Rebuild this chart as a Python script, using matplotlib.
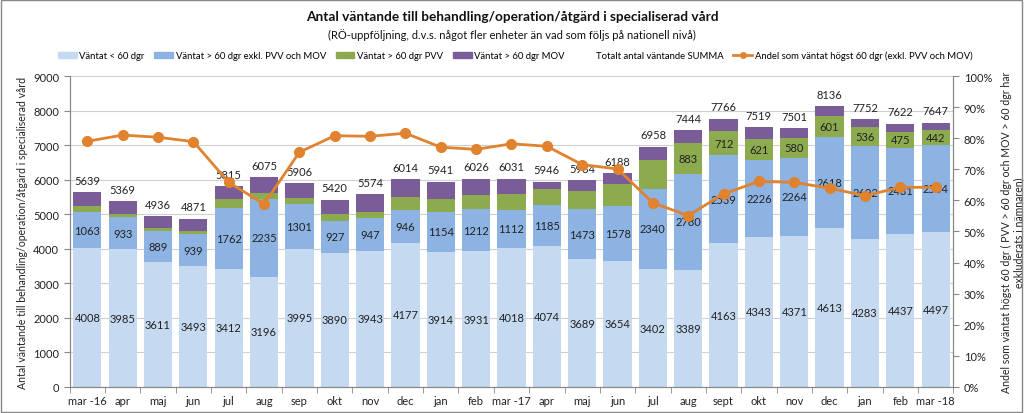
import matplotlib
matplotlib.use("Agg")
import matplotlib.pyplot as plt
import matplotlib.patches as mpatches
from matplotlib.lines import Line2D
import numpy as np

plt.rcParams['font.family'] = ['Lato', 'DejaVu Sans']

months = ["mar -16", "apr", "maj", "jun", "jul", "aug", "sep", "okt", "nov", "dec",
          "jan", "feb", "mar -17", "apr", "maj", "jun", "jul", "aug", "sept", "okt",
          "nov", "dec", "jan", "feb", "mar -18"]
under60 = [4008, 3985, 3611, 3493, 3412, 3196, 3995, 3890, 3943, 4177, 3914, 3931, 4018,
           4074, 3689, 3654, 3402, 3389, 4163, 4343, 4371, 4613, 4283, 4437, 4497]
over60 = [1063, 933, 889, 939, 1762, 2235, 1301, 927, 947, 946, 1154, 1212, 1112,
          1185, 1473, 1578, 2340, 2780, 2539, 2226, 2264, 2618, 2692, 2481, 2504]
pvv = [165, 80, 90, 80, 270, 195, 165, 195, 185, 375, 385, 425, 460,
       480, 510, 645, 820, 883, 712, 621, 580, 601, 536, 475, 442]
mov = [403, 371, 346, 359, 371, 449, 445, 408, 499, 516, 488, 458, 441,
       207, 312, 311, 396, 392, 352, 329, 286, 304, 241, 229, 204]
totals = [5639, 5369, 4936, 4871, 5815, 6075, 5906, 5420, 5574, 6014, 5941, 6026, 6031,
          5946, 5984, 6188, 6958, 7444, 7766, 7519, 7501, 8136, 7752, 7622, 7647]
andel = [79.0, 81.0, 80.3, 78.9, 65.8, 58.8, 75.5, 80.8, 80.6, 81.6, 77.1, 76.4, 78.2,
         77.4, 71.5, 70.1, 59.2, 55.1, 62.1, 66.1, 65.8, 63.9, 61.5, 64.2, 64.2]
pvv_labeled_from = 17  # PVV values shown from aug -17

c_under = "#C5D9F1"
c_over = "#8DB3E2"
c_pvv = "#8CAA4E"
c_mov = "#7A5C99"
c_line = "#E0822E"
grid_c = "#D0D0D0"
txt = "#222222"

fig = plt.figure(figsize=(10.24, 4.14), dpi=100)
ax = fig.add_axes([0.068, 0.063, 0.863, 0.751])
ax2 = ax.twinx()

x = np.arange(len(months))
u = np.array(under60)
o = np.array(over60)
p = np.array(pvv)
m = np.array(mov)
w = 0.8
ax.bar(x, u, w, color=c_under, zorder=2)
ax.bar(x, o, w, bottom=u, color=c_over, zorder=2)
ax.bar(x, p, w, bottom=u + o, color=c_pvv, zorder=2)
ax.bar(x, m, w, bottom=u + o + p, color=c_mov, zorder=2)

for i in range(len(x)):
    ax.text(x[i], u[i] / 2, str(u[i]), ha="center", va="center", fontsize=8, color=txt, zorder=5)
    ax.text(x[i], u[i] + o[i] / 2, str(o[i]), ha="center", va="center", fontsize=8, color=txt, zorder=5)
    if i >= pvv_labeled_from:
        ax.text(x[i], u[i] + o[i] + p[i] / 2, str(p[i]), ha="center", va="center",
                fontsize=8, color=txt, zorder=5)
    ax.text(x[i], totals[i] + 340, str(totals[i]), ha="center", va="center", fontsize=8,
            color=txt, zorder=5)

ax.set_xlim(-0.5, len(x) - 0.5)
ax.set_ylim(0, 9000)
ax.set_yticks(np.arange(0, 9001, 1000))
ax.yaxis.grid(True, color=grid_c, linewidth=0.8, zorder=0)
ax.set_axisbelow(True)
ax.set_xticks(x)
ax.set_xticklabels(months)
ax.set_xticks(np.arange(-0.5, len(x), 1), minor=True)
ax.tick_params(axis="x", which="major", length=0, labelsize=8, colors=txt, pad=6)
ax.tick_params(axis="x", which="minor", length=4, color="#888888")
ax.tick_params(axis="y", labelsize=8, colors=txt, length=4, color="#888888")
ax.set_ylabel("Antal väntande till behandling/operation/åtgärd i specialiserad vård",
              fontsize=7.6, color=txt)

ax2.plot(x, andel, color=c_line, linewidth=2, marker="o", markersize=7, zorder=4)
ax2.set_ylim(0, 100)
ax2.set_yticks(np.arange(0, 101, 10))
ax2.set_yticklabels([f"{v}%" for v in range(0, 101, 10)])
ax2.tick_params(axis="y", labelsize=8, colors=txt, length=4, color="#888888")
ax2.set_ylabel("Andel som väntat högst 60 dgr ( PVV > 60 dgr och MOV > 60 dgr har\n"
               "exkluderats i nämnaren)", fontsize=7.6, color=txt, rotation=90, labelpad=6)

for a in (ax, ax2):
    a.spines["top"].set_visible(False)
    for s in ("left", "right", "bottom"):
        a.spines[s].set_color("#888888")

fig.text(0.5, 0.958, "Antal väntande till behandling/operation/åtgärd i specialiserad vård",
         ha="center", va="center", fontsize=9.8, fontweight="bold", color="#111111")
fig.text(0.5, 0.915, "(RÖ-uppföljning, d.v.s. något fler enheter än vad som följs på nationell nivå)",
         ha="center", va="center", fontsize=8, color="#111111")

handles = [mpatches.Patch(color=c_under), mpatches.Patch(color=c_over),
           mpatches.Patch(color=c_pvv), mpatches.Patch(color=c_mov),
           mpatches.Patch(color="none"),
           Line2D([], [], color=c_line, marker="o", markersize=4, linewidth=2)]
labels = ["Väntat < 60 dgr", "Väntat > 60 dgr exkl. PVV och MOV", "Väntat > 60 dgr PVV",
          "Väntat > 60 dgr MOV", "Totalt antal väntande SUMMA",
          "Andel som väntat högst 60 dgr (exkl. PVV och MOV)"]
fig.legend(handles, labels, loc="center", bbox_to_anchor=(0.503, 0.863), ncol=6,
           frameon=False, fontsize=6.8, handlelength=2.0, handleheight=0.7,
           columnspacing=1.0, handletextpad=0.3)

fig.patches.append(mpatches.Rectangle((0.001, 0.002), 0.997, 0.995, transform=fig.transFigure,
                                      fill=False, edgecolor="#888888", linewidth=1))

fig.savefig("out.png", dpi=100)
